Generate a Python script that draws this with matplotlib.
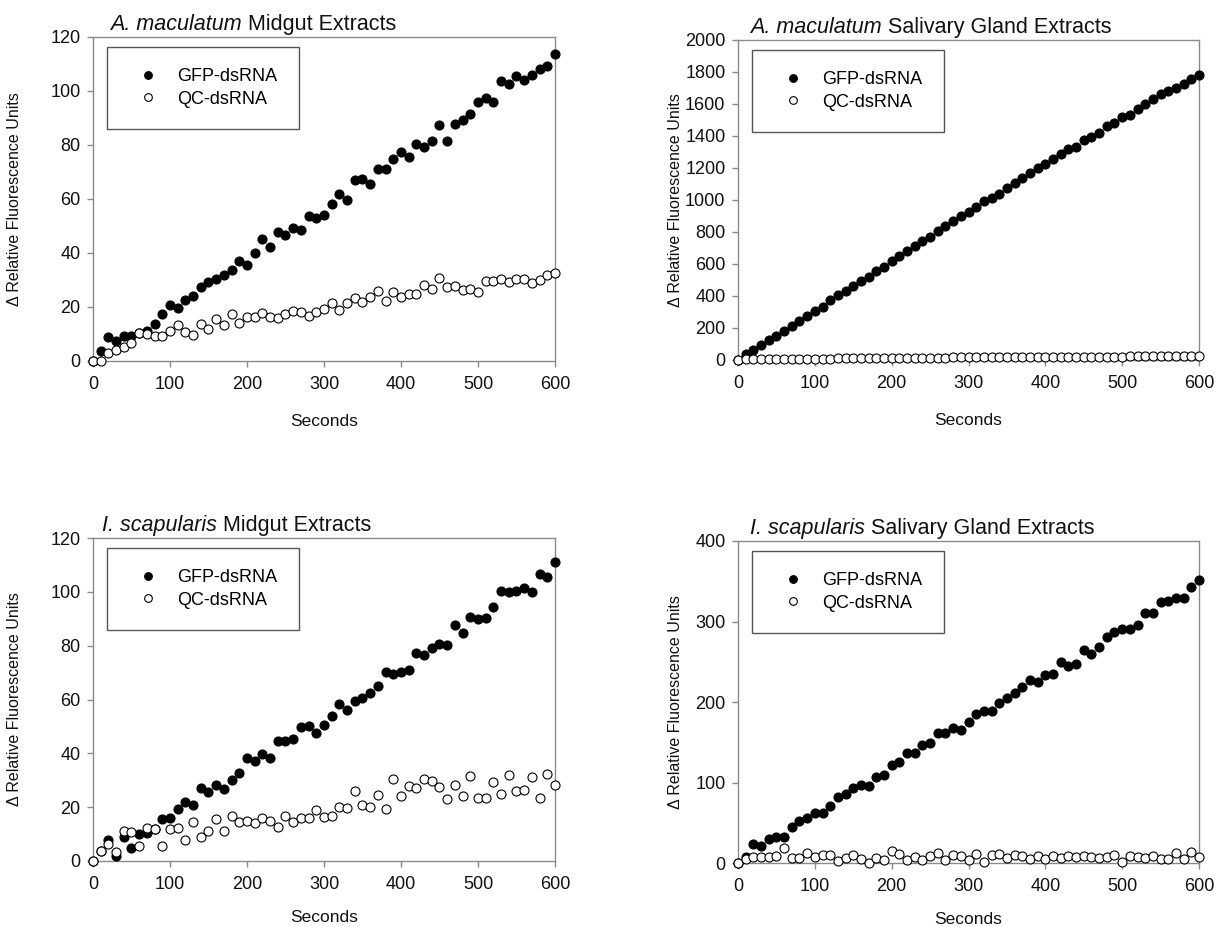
import matplotlib
matplotlib.use("Agg")
import matplotlib.pyplot as plt
from matplotlib.transforms import offset_copy

plt.rcParams['font.family'] = ['Liberation Sans', 'DejaVu Sans']

seconds = list(range(0, 601, 10))

am_mid_gfp = [0, 3.8, 8.9, 7.4, 9.4, 9.4, 10.5, 11, 13.6, 17.3,
              20.7, 19.5, 22.5, 24.2, 27.5, 29.1, 30.5, 32, 33.7, 36.9,
              35.7, 39.9, 45.3, 42.2, 47.7, 46.8, 49.3, 48.4, 53.7, 53.1,
              54, 58.3, 61.7, 59.5, 67.2, 67.4, 65.4, 71, 71, 74.7,
              77.5, 75.7, 80.5, 79.3, 81.5, 87.5, 81.6, 87.8, 89.4, 91.4,
              95.9, 97.5, 95.9, 103.7, 102.6, 105.6, 104.2, 106, 108.1, 109.3,
              113.7]
am_mid_qc = [0, 0, 3.1, 4.1, 5.3, 6.5, 10.3, 10, 9.4, 9.4,
             11.1, 13.2, 10.7, 9.8, 13.6, 12, 15.4, 13.3, 17.5, 14,
             16.4, 16.2, 17.9, 16.3, 15.9, 17.3, 18.6, 18.3, 16.8, 18.1,
             19.1, 21.3, 18.8, 21.3, 23.2, 22, 23.7, 25.8, 22.3, 25.6,
             23.6, 24.8, 24.7, 28, 26.8, 30.7, 27.5, 27.7, 26.4, 26.8,
             25.7, 29.5, 29.8, 30.5, 29.3, 30.4, 30.5, 28.8, 30, 31.9,
             32.7]

am_sg_gfp = [0, 35, 62, 96, 123, 152, 181, 212, 243, 274,
             305, 332, 372, 403, 432, 463, 492, 519, 557, 579,
             617, 650, 681, 712, 744, 771, 808, 837, 866, 899,
             924, 955, 991, 1011, 1040, 1074, 1105, 1138, 1169, 1198,
             1223, 1254, 1290, 1319, 1333, 1377, 1391, 1421, 1462, 1483,
             1520, 1533, 1566, 1599, 1628, 1661, 1678, 1697, 1724, 1755,
             1784]
am_sg_qc = [0, 3, 4, 5, 5, 6, 6, 7, 7, 8,
            8, 9, 9, 10, 10, 11, 11, 12, 12, 12,
            13, 13, 14, 14, 14, 15, 15, 15, 16, 16,
            16, 17, 17, 17, 18, 18, 18, 18, 19, 19,
            19, 19, 20, 20, 20, 20, 21, 21, 21, 21,
            21, 22, 22, 22, 22, 22, 22, 23, 23, 23,
            23]

is_mid_gfp = [0, 3.8, 7.8, 2, 9, 5, 10, 10.5, 11.9, 15.6,
              16, 19.2, 22, 20.9, 27.2, 25.5, 28.2, 26.7, 30.1, 32.7,
              38.4, 37, 39.7, 38.1, 44.7, 44.7, 45.5, 49.9, 50.1, 47.4,
              50.5, 54, 58.3, 56, 59.5, 60.4, 62.4, 65, 70.3, 69.3,
              70.3, 70.9, 77.1, 76.7, 79.2, 80.8, 80.3, 87.7, 84.7, 90.7,
              90, 90.3, 94.2, 100.4, 99.8, 100.5, 101.4, 100, 106.7, 105.4,
              111]
is_mid_qc = [0, 3.8, 6.5, 3.5, 11.3, 10.6, 5.7, 12.1, 12, 5.6,
             11.9, 12.1, 7.8, 14.5, 8.8, 11.3, 15.5, 11.1, 16.7, 14.4,
             14.9, 14, 15.8, 14.9, 12.5, 16.8, 14.4, 16.1, 15.8, 18.9,
             16.5, 16.7, 19.9, 19.6, 26.1, 20.7, 19.9, 24.4, 19.4, 30.3,
             24.1, 28, 27, 30.6, 29.7, 27.5, 22.9, 28.3, 24.1, 31.6,
             23.3, 23.3, 29.5, 25, 31.9, 26, 26.4, 31.1, 23.3, 32.2,
             28.3]

is_sg_gfp = [0, 7, 23.6, 21.5, 29.8, 32.2, 31.8, 44.6, 52.5, 55.4,
             62.4, 62, 71.1, 81.8, 85.5, 92.6, 96.7, 96.3, 107, 109,
             121.9, 126, 136.8, 137.2, 147.1, 148.8, 161.2, 161.2, 167.4, 165.3,
             174.8, 184.7, 189.3, 188.4, 198.3, 205.4, 211.2, 218.2, 227.3, 225.2,
             233.5, 235.1, 249.2, 244.6, 247.1, 264.5, 259.9, 268.6, 280.2, 287.2,
             291.3, 290.9, 295.5, 310.7, 310.7, 324.4, 325.6, 329.3, 329.8, 343,
             352]
is_sg_qc = [0, 5, 7, 7.4, 7.4, 9.1, 18.6, 6.2, 6.2, 12,
            7.4, 9.9, 9.9, 2.9, 6.2, 10.3, 5, 0, 6.2, 4.1,
            14.9, 11.2, 3.3, 7.4, 3.3, 8.3, 12.4, 4.1, 9.5, 8.7,
            4.1, 11.6, 1.2, 9.5, 11.6, 6.2, 9.9, 8.3, 5.4, 8.3,
            5, 8.3, 5.8, 8.3, 7, 8.3, 7, 5.8, 7, 9.5,
            0.8, 9.1, 7.4, 5.8, 9.1, 5, 5, 12.4, 5, 13.6,
            7.4]

series_labels = ["GFP-dsRNA", "QC-dsRNA"]
x_ticks = [0, 100, 200, 300, 400, 500, 600]

panels = [
    dict(species="A. maculatum", tissue="Midgut Extracts", gfp=am_mid_gfp, qc=am_mid_qc,
         yticks=[0, 20, 40, 60, 80, 100, 120],
         rect=[0.0756, 0.6106, 0.3756, 0.3495], tx=0.037, ylx=-0.154, xly=-0.165),
    dict(species="A. maculatum", tissue="Salivary Gland Extracts", gfp=am_sg_gfp, qc=am_sg_qc,
         yticks=[0, 200, 400, 600, 800, 1000, 1200, 1400, 1600, 1800, 2000],
         rect=[0.6, 0.6117, 0.3748, 0.3452], tx=0.026, ylx=-0.119, xly=-0.165),
    dict(species="I. scapularis", tissue="Midgut Extracts", gfp=is_mid_gfp, qc=is_mid_qc,
         yticks=[0, 20, 40, 60, 80, 100, 120],
         rect=[0.0756, 0.0712, 0.3756, 0.3484], tx=0.02, ylx=-0.154, xly=-0.152),
    dict(species="I. scapularis", tissue="Salivary Gland Extracts", gfp=is_sg_gfp, qc=is_sg_qc,
         yticks=[0, 100, 200, 300, 400],
         rect=[0.6, 0.069, 0.3748, 0.3474], tx=0.026, ylx=-0.119, xly=-0.152),
]

fig = plt.figure(figsize=(12.3, 9.27), dpi=100)
renderer = fig.canvas.get_renderer()
spine_col = "#8a8a8a"
txt_col = "#111111"

for p in panels:
    ax = fig.add_axes(p["rect"])
    ax.plot(seconds, p["gfp"], linestyle="none", marker="o", markersize=6.5,
            markerfacecolor="black", markeredgecolor="black", markeredgewidth=0.8,
            label=series_labels[0], clip_on=False, zorder=3)
    ax.plot(seconds, p["qc"], linestyle="none", marker="o", markersize=6.5,
            markerfacecolor="white", markeredgecolor="black", markeredgewidth=0.8,
            label=series_labels[1], clip_on=False, zorder=4)
    ax.set_xlim(0, 600)
    ax.set_ylim(p["yticks"][0], p["yticks"][-1])
    ax.set_xticks(x_ticks)
    ax.set_yticks(p["yticks"])
    for s in ax.spines.values():
        s.set_color(spine_col)
        s.set_linewidth(1.0)
    ax.tick_params(axis="both", direction="out", length=4, width=1.0, color=spine_col,
                   labelsize=13, labelcolor=txt_col)
    ax.tick_params(axis="x", pad=7)
    ax.tick_params(axis="y", pad=5)
    ax.set_xlabel("Seconds", fontsize=12.5, color=txt_col)
    ax.xaxis.set_label_coords(0.5, p["xly"])
    ax.set_ylabel("\u0394 Relative Fluorescence Units", fontsize=11.5, color=txt_col)
    ax.yaxis.set_label_coords(p["ylx"], 0.5)

    # title: italic species name followed by regular text
    t1 = ax.text(p["tx"], 1.022, p["species"], transform=ax.transAxes, fontsize=15.5,
                 style="italic", ha="left", va="baseline", color=txt_col)
    w_px = t1.get_window_extent(renderer=renderer).width
    trans2 = offset_copy(ax.transAxes, fig=fig, x=w_px * 72.0 / fig.dpi, y=0, units="points")
    ax.text(p["tx"], 1.022, " " + p["tissue"], transform=trans2, fontsize=15.5,
            ha="left", va="baseline", color=txt_col)

    leg = ax.legend(loc="upper left", bbox_to_anchor=(0.03, 0.97), fontsize=13,
                    frameon=True, fancybox=False, borderpad=1.2, labelspacing=0.3,
                    handletextpad=0.55, handlelength=2.15, borderaxespad=0.0,
                    markerscale=0.85)
    fr = leg.get_frame()
    fr.set_edgecolor("#555555")
    fr.set_linewidth(1.0)
    fr.set_alpha(1)

fig.savefig("out.png", dpi=100)
